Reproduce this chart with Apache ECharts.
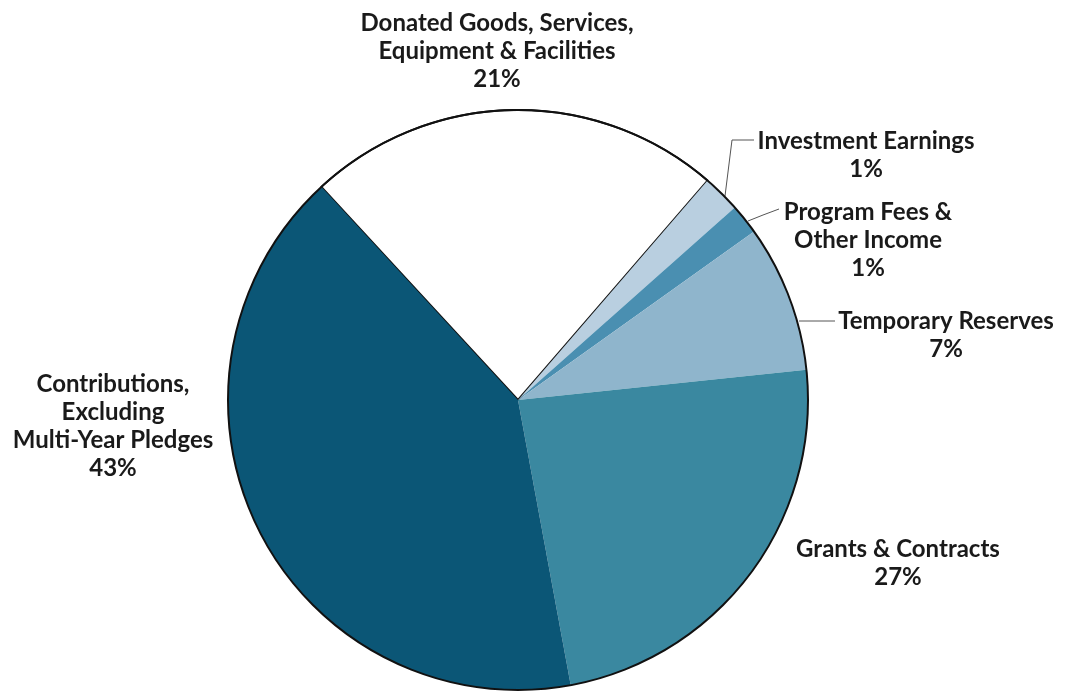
<!DOCTYPE html>
<html>
<head>
<meta charset="utf-8">
<script src="https://cdn.jsdelivr.net/npm/echarts@6/dist/echarts.min.js"></script>
<style>
html,body{margin:0;padding:0;background:#fff;}
#chart{width:1078px;height:692px;}
</style>
</head>
<body>
<div id="chart"></div>
<script>
// Categories, in clockwise order starting at the Donated slice
const categories = [
  'Donated Goods, Services,\nEquipment & Facilities',
  'Investment Earnings',
  'Program Fees &\nOther Income',
  'Temporary Reserves',
  'Grants & Contracts',
  'Contributions,\nExcluding\nMulti-Year Pledges'
];
// Printed percentages
const shares = [21, 1, 1, 7, 27, 43];
// Slice sizes as drawn in the picture (percent of the circle)
const arcs = [23.2, 2.1, 1.7, 8.2, 23.75, 41.05];

const colors = ['#ffffff', '#b9cfe0', '#4a8fb1', '#8fb5cc', '#3a88a0', '#0b5676'];
// label block centres and leader line routes (layout only)
const labelPos = [[497, 51], [866, 155], [868, 240], [946, 335], [898, 563], [113, 426]];
const leaderRoutes = [null,
  [[725, 196], [732, 140], [754, 140]],
  [[748, 221], [763, 215], [779, 209]],
  [[799, 321], [816, 321], [835, 321]],
  null, null];

const chart = echarts.init(document.getElementById('chart'), null, {renderer: 'canvas'});
const data = categories.map((c, i) => ({
  name: c,
  value: arcs[i],
  itemStyle: i === 0 ? {color: colors[i], borderColor: '#111', borderWidth: 2} : {color: colors[i], borderWidth: 0},
  labelLine: {show: !!leaderRoutes[i]}
}));

chart.setOption({
  animation: false,
  backgroundColor: '#ffffff',
  series: [{
    type: 'pie',
    center: [518, 400],
    radius: 290,
    startAngle: 132.7,
    clockwise: true,
    avoidLabelOverlap: false,
    silent: true,
    data: data,
    label: {
      show: true,
      position: 'outside',
      formatter: p => p.name + '\n' + shares[p.dataIndex] + '%',
      fontFamily: 'Lato',
      fontWeight: 'bold',
      fontSize: 24,
      lineHeight: 28,
      color: '#1a1a1a',
      align: 'center'
    },
    labelLine: {
      show: true,
      length: 10,
      length2: 20,
      lineStyle: {color: '#555', width: 1}
    },
    labelLayout: function (params) {
      const i = params.dataIndex;
      const p = labelPos[i];
      const out = {x: p[0], y: p[1], align: 'center', verticalAlign: 'middle'};
      if (leaderRoutes[i]) out.labelLinePoints = leaderRoutes[i];
      return out;
    }
  }, {
    type: 'pie',
    center: [518, 400],
    radius: 290,
    silent: true,
    label: {show: false},
    labelLine: {show: false},
    data: [{value: 1, itemStyle: {color: 'rgba(0,0,0,0)', borderColor: '#111', borderWidth: 2}}]
  }]
});
</script>
</body>
</html>
